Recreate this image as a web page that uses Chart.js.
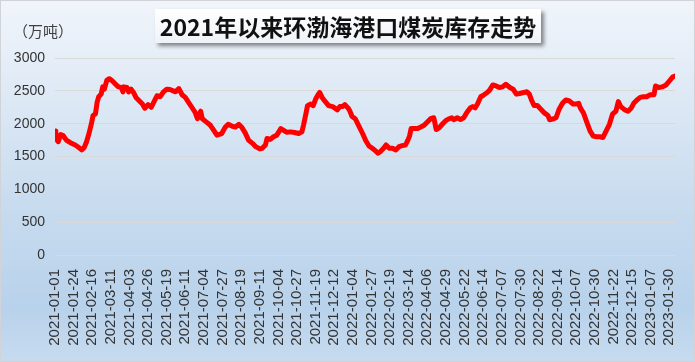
<!DOCTYPE html>
<html>
<head>
<meta charset="utf-8">
<script src="https://cdn.jsdelivr.net/npm/chart.js@4/dist/chart.umd.min.js"></script>
<style>
  body { margin: 0; }
  #box { position: relative; width: 695px; height: 362px; }
  #title {
    position: absolute; left: 155px; top: 9px; width: 386px; height: 34px;
    background: linear-gradient(#ffffff, #eef3f9);
    box-shadow: 3px 3px 4px rgba(0, 0, 0, 0.45);
    font: bold 23px "Noto Sans CJK SC", sans-serif; color: #111;
    text-align: center; line-height: 34px; white-space: nowrap;
  }
  #unit {
    position: absolute; left: 13px; top: 20px;
    font: 15px "Noto Sans CJK SC", sans-serif; color: #404040;
  }
</style>
</head>
<body>
<div id="box">
  <canvas id="stockChart" width="695" height="362"></canvas>
  <div id="title">2021年以来环渤海港口煤炭库存走势</div>
  <div id="unit">（万吨）</div>
</div>
<script>
// days counted from 2021-01-01, values in 万吨
const sampleDays = [
  0, 1, 4, 7, 10, 14, 19, 25, 29, 33, 36, 39, 42, 45, 47, 50, 52, 54, 57, 59,
  61, 64, 67, 70, 74, 78, 82, 84, 85, 89, 91, 94, 97, 100, 104, 108, 111, 115, 119, 123,
  126, 130, 134, 138, 142, 146, 149, 153, 157, 161, 165, 169, 173, 176, 180, 182, 186, 192, 196, 200,
  206, 210, 214, 219, 223, 227, 231, 235, 239, 244, 248, 253, 256, 260, 262, 266, 270, 274, 279, 281,
  286, 291, 296, 301, 305, 307, 310, 312, 316, 319, 322, 325, 327, 330, 334, 338, 343, 349, 352, 355,
  358, 362, 364, 367, 371, 375, 380, 384, 388, 392, 396, 399, 402, 406, 409, 413, 417, 421, 425, 429,
  433, 436, 438, 440, 444, 448, 452, 456, 460, 464, 468, 471, 475, 479, 483, 487, 490, 493, 497, 501,
  505, 509, 513, 516, 519, 522, 526, 530, 534, 537, 541, 545, 549, 553, 557, 562, 566, 570, 574, 579,
  583, 586, 589, 592, 596, 600, 605, 609, 611, 615, 619, 623, 627, 631, 635, 640, 644, 647, 649, 653,
  657, 661, 665, 669, 673, 677, 681, 685, 689, 693, 696, 699, 704, 708, 712, 715, 719, 723, 727, 731,
  735, 740, 742, 746, 750, 755, 759, 763, 766
];
const stock = [
  1890, 1775, 1725, 1835, 1820, 1750, 1710, 1675, 1640, 1600, 1635, 1725, 1850, 2000, 2125, 2150, 2325, 2410, 2450, 2560,
  2525, 2660, 2685, 2660, 2610, 2565, 2550, 2485, 2560, 2550, 2485, 2525, 2475, 2400, 2350, 2300, 2235, 2290, 2250, 2350,
  2425, 2410, 2485, 2525, 2520, 2500, 2485, 2535, 2440, 2400, 2325, 2250, 2175, 2075, 2190, 2075, 2035, 1975, 1900, 1825,
  1850, 1940, 1990, 1960, 1950, 1990, 1940, 1860, 1750, 1700, 1650, 1615, 1625, 1675, 1775, 1760, 1800, 1825, 1925, 1910,
  1870, 1875, 1865, 1850, 1875, 1975, 2150, 2275, 2300, 2275, 2375, 2440, 2475, 2400, 2335, 2275, 2260, 2210, 2260, 2260,
  2290, 2240, 2200, 2110, 2075, 1975, 1850, 1740, 1660, 1625, 1585, 1550, 1575, 1625, 1675, 1625, 1625, 1600, 1650, 1665,
  1675, 1750, 1810, 1925, 1925, 1925, 1950, 1975, 2025, 2075, 2090, 1910, 1940, 2000, 2050, 2075, 2090, 2060, 2090, 2065,
  2090, 2175, 2240, 2260, 2240, 2300, 2410, 2440, 2475, 2510, 2590, 2575, 2550, 2560, 2600, 2550, 2525, 2450, 2460, 2475,
  2485, 2450, 2350, 2275, 2275, 2225, 2160, 2125, 2060, 2070, 2090, 2225, 2310, 2360, 2350, 2300, 2300, 2310, 2240, 2160,
  2025, 1890, 1810, 1800, 1800, 1790, 1890, 1990, 2150, 2190, 2335, 2260, 2210, 2190, 2240, 2310, 2360, 2400, 2410, 2410,
  2440, 2440, 2575, 2550, 2560, 2590, 2650, 2710, 2725
];
const tickLabels = [
  "2021-01-01", "2021-01-24", "2021-02-16", "2021-03-11", "2021-04-03", "2021-04-26",
  "2021-05-19", "2021-06-11", "2021-07-04", "2021-07-27", "2021-08-19", "2021-09-11",
  "2021-10-04", "2021-10-27", "2021-11-19", "2021-12-12", "2022-01-04", "2022-01-27",
  "2022-02-19", "2022-03-14", "2022-04-06", "2022-04-29", "2022-05-22", "2022-06-14",
  "2022-07-07", "2022-07-30", "2022-08-22", "2022-09-14", "2022-10-07", "2022-10-30",
  "2022-11-22", "2022-12-15", "2023-01-07", "2023-01-30"
];
const tickStep = 23;
const lastDay = 766;

const background = {
  id: "background",
  beforeDraw(chart) {
    const { ctx, width, height } = chart;
    const g = ctx.createLinearGradient(0, 0, 0, height);
    g.addColorStop(0, "#f1f5fb");
    g.addColorStop(0.55, "#c9dcef");
    g.addColorStop(0.85, "#b8d2eb");
    g.addColorStop(1, "#c7dbef");
    ctx.save();
    ctx.fillStyle = g;
    ctx.fillRect(0, 0, width, height);
    ctx.strokeStyle = "#d0d4d8";
    ctx.lineWidth = 1;
    ctx.strokeRect(0.5, 0.5, width - 1, height - 1);
    ctx.restore();
  },
};

const ctx = document.getElementById("stockChart").getContext("2d");
new Chart(ctx, {
  type: "line",
  data: {
    datasets: [
      {
        data: sampleDays.map((d, i) => ({ x: d, y: stock[i] })),
        borderColor: "#ff0000",
        borderWidth: 5,
        borderJoinStyle: "round",
        borderCapStyle: "round",
        pointRadius: 0,
        tension: 0,
      },
    ],
  },
  options: {
    responsive: false,
    animation: false,
    layout: { padding: { top: 58, right: 20, bottom: 0, left: 0 } },
    plugins: {
      legend: { display: false },
      tooltip: { enabled: false },
    },
    scales: {
      x: {
        type: "linear",
        min: 0,
        max: lastDay,
        afterFit: (s) => { s.height = 107; },
        afterBuildTicks: (s) => {
          s.ticks = tickLabels.map((_, i) => ({ value: i * tickStep }));
        },
        grid: { display: false },
        border: { display: false },
        ticks: {
          autoSkip: false,
          minRotation: 90,
          maxRotation: 90,
          padding: 6,
          color: "#333",
          font: { family: "Liberation Sans", size: 15 },
          callback: (v) => tickLabels[Math.round(v / tickStep)],
        },
      },
      y: {
        min: 0,
        max: 3000,
        afterFit: (s) => { s.width = 55; },
        grid: { color: "#d9d9d9", drawTicks: false },
        border: { display: false },
        ticks: {
          stepSize: 500,
          padding: 10,
          color: "#333",
          font: { family: "Liberation Sans", size: 14 },
          callback: (v) => String(v),
        },
      },
    },
  },
  plugins: [background],
});
</script>
</body>
</html>
